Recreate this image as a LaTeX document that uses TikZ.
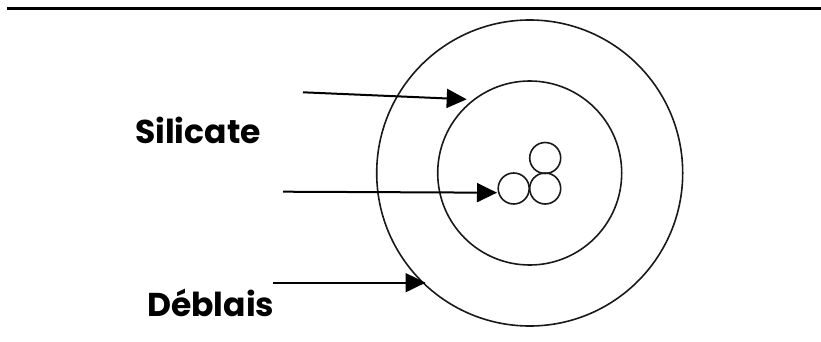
\documentclass[tikz,border=0pt]{standalone}
\usepackage{fontspec}
\setmainfont{Poppins}
\usetikzlibrary{arrows.meta}
\tikzset{
  ring/.style={circle, draw=black!90, line width=1.6pt, inner sep=0pt},
  grain/.style={circle, draw=black!90, line width=1.6pt, inner sep=0pt, minimum size=31pt},
  pointer/.style={draw=black, line width=2pt, -{Triangle[length=20pt,width=19pt]}},
  label/.style={font=\fontsize{33}{40}\selectfont\bfseries, inner sep=0pt, anchor=base west}
}
\begin{document}
\begin{tikzpicture}[x=1pt,y=-1pt]
  \useasboundingbox (0,0) rectangle (821,342);
  % header rule
  \coordinate (ruleL) at (7,8.5);
  \coordinate (ruleR) at (821,8.5);
  \draw[line width=2.5pt] (ruleL) -- (ruleR);
  % concentric shells
  \node[ring, minimum size=306pt] (outer) at (529.7,173) {};
  \node[ring, minimum size=184pt] (inner) at (529.7,173) {};
  % grains in the core
  \node[grain] (g1) at (513.7,188.5) {};
  \node[grain] (g2) at (545.2,188.5) {};
  \node[grain] (g3) at (545.2,158) {};
  % labels
  \node[label] (sil) at (135,143.3) {Silicate};
  \node[label] (deb) at (147,316.7) {Déblais};
  % pointers
  \coordinate (t1) at (303,92.3);
  \coordinate (h1) at (466.7,99.3);
  \coordinate (t2) at (283,191.7);
  \coordinate (h2) at (497,192.7);
  \coordinate (t3) at (273,282.7);
  \coordinate (h3) at (425.5,282.7);
  \draw[pointer] (t1) -- (h1);
  \draw[pointer] (t2) -- (h2);
  \draw[pointer] (t3) -- (h3);
\end{tikzpicture}
\end{document}
